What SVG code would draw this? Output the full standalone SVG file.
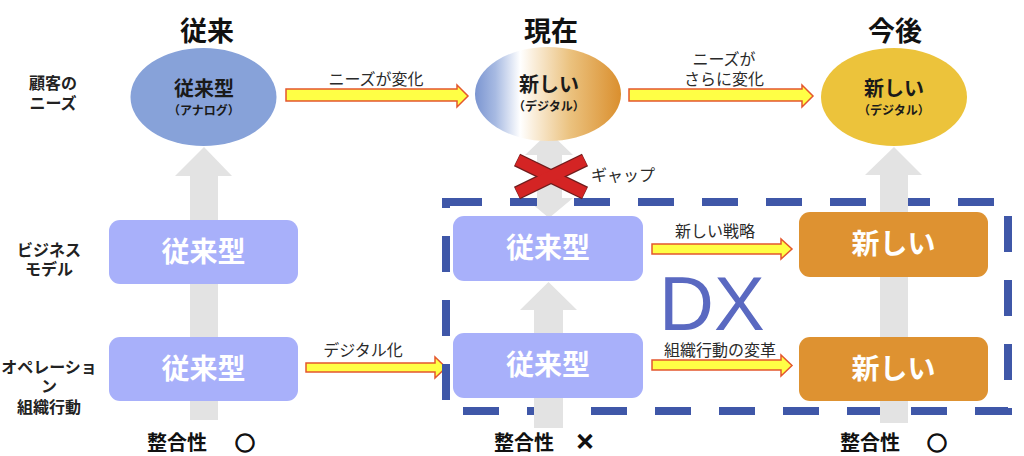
<svg xmlns="http://www.w3.org/2000/svg" width="1024" height="456" viewBox="0 0 1024 456">
<defs>
<linearGradient id="gNow" x1="0" y1="0" x2="1" y2="0">
<stop offset="0" stop-color="#7b95d1"/>
<stop offset="0.14" stop-color="#a7bae2"/>
<stop offset="0.31" stop-color="#ffffff"/>
<stop offset="0.4" stop-color="#faeedb"/>
<stop offset="0.65" stop-color="#ebc27f"/>
<stop offset="1" stop-color="#da8f2e"/>
</linearGradient>
</defs>
<style>
.jp{font-family:"Noto Sans CJK JP","Noto Sans",sans-serif}
.title{font-size:27px;font-weight:bold;fill:#111;text-anchor:middle}
.side{font-size:16px;font-weight:bold;fill:#222;text-anchor:middle}
.elt{font-size:20px;font-weight:bold;fill:#1a1a1a;text-anchor:middle}
.els{font-size:12px;font-weight:bold;fill:#1a1a1a;text-anchor:middle}
.boxt{font-size:28px;font-weight:bold;fill:#ffffff;text-anchor:middle}
.lab{font-size:16px;fill:#2a2a2a;text-anchor:middle}
.bot{font-size:20px;font-weight:bold;fill:#111}
.mark{fill:#111;stroke:#111;stroke-width:1.4;text-anchor:middle}
.blue{fill:#a8b0fa}
.orange{fill:#de9231}
.gray{fill:#e3e3e3}
.yarrow{fill:#ffff45;stroke:#e4572e;stroke-width:1.5;stroke-linejoin:miter}
</style>
<rect width="1024" height="456" fill="#ffffff"/>

<!-- titles -->
<g id="titles" class="jp">
<text class="title" x="207" y="41">従来</text>
<text class="title" x="551" y="41">現在</text>
<text class="title" x="895" y="41">今後</text>
</g>

<!-- row labels -->
<g id="row-labels" class="jp">
<text class="side" x="53" y="89">顧客の</text>
<text class="side" x="53" y="109">ニーズ</text>
<text class="side" x="49" y="256">ビジネス</text>
<text class="side" x="49" y="275">モデル</text>
<text class="side" x="49" y="373">オペレーショ</text>
<text class="side" x="49" y="392">ン</text>
<text class="side" x="49" y="413">組織行動</text>
</g>

<!-- connectors -->
<g id="connectors">
<polygon class="gray" points="190,420 190,176 175,176 204,147 232,176 218,176 218,420"/>
<polygon class="gray" points="880,423 880,175 865,175 894,147 922,175 908,175 908,423"/>
<polygon class="gray" points="534,428 534,310 520,310 548.5,282 577,310 563,310 563,428"/>
<polygon class="gray" points="549,132 573,155 562,155 562,198 573,198 549,218 525,198 537,198 537,155 525,155"/>
<polygon class="yarrow" points="286,89 457,89 457,85 468,96 457,107 457,101 286,101"/>
<polygon class="yarrow" points="629,89 802,89 802,85 813,96 802,107 802,101 629,101"/>
<polygon class="yarrow" points="306,363 435,363 435,357 446,367.5 435,378 435,372 306,372"/>
<polygon class="yarrow" points="652,244 781,244 781,239 792,249 781,259 781,254 652,254"/>
<polygon class="yarrow" points="652,360 781,360 781,355 792,365.5 781,376 781,370 652,370"/>
</g>

<!-- DX boundary -->
<g id="dx-frame">
<rect x="446" y="202" width="562" height="209" fill="none" stroke="#3f57a8" stroke-width="8" stroke-dasharray="36 28"/>
<text x="659" y="330" font-family="Liberation Sans, Arial, sans-serif" font-size="76" fill="#5a69c1">DX</text>
</g>
<g id="connectors-over">
<rect class="gray" x="537" y="198" width="25" height="8"/>
<rect class="gray" x="880" y="198" width="28" height="8"/>
<rect class="gray" x="880" y="407" width="28" height="8"/>
<rect class="gray" x="534" y="407" width="29" height="8"/>
</g>

<!-- needs ellipses -->
<g id="need-past" class="jp">
<ellipse cx="203.5" cy="97" rx="73" ry="49" fill="#87a2d9"/>
<text class="elt" x="204" y="96">従来型</text>
<text class="els" x="204" y="115">（アナログ）</text>
</g>
<g id="need-now" class="jp">
<ellipse cx="548" cy="94" rx="73" ry="47" fill="url(#gNow)"/>
<text class="elt" x="549" y="92">新しい</text>
<text class="els" x="549" y="111">（デジタル）</text>
</g>
<g id="need-future" class="jp">
<ellipse cx="894" cy="97" rx="73" ry="49" fill="#ecc33b"/>
<text class="elt" x="894" y="96">新しい</text>
<text class="els" x="894" y="115">（デジタル）</text>
</g>

<!-- boxes -->
<g id="bm-past" class="jp">
<rect class="blue" x="109" y="220" width="189" height="64" rx="11"/>
<text class="boxt" x="203.5" y="262">従来型</text>
</g>
<g id="op-past" class="jp">
<rect class="blue" x="109" y="337" width="189" height="64" rx="11"/>
<text class="boxt" x="203.5" y="379">従来型</text>
</g>
<g id="bm-now" class="jp">
<rect class="blue" x="453" y="216" width="190" height="65" rx="11"/>
<text class="boxt" x="548" y="258">従来型</text>
</g>
<g id="op-now" class="jp">
<rect class="blue" x="453" y="333" width="190" height="65" rx="11"/>
<text class="boxt" x="548" y="375">従来型</text>
</g>
<g id="bm-future" class="jp">
<rect class="orange" x="799" y="212" width="189" height="65" rx="11"/>
<text class="boxt" x="893.5" y="254">新しい</text>
</g>
<g id="op-future" class="jp">
<rect class="orange" x="799" y="337" width="189" height="64" rx="11"/>
<text class="boxt" x="893.5" y="379">新しい</text>
</g>

<!-- gap cross -->
<g id="gap">
<line x1="517" y1="160" x2="585" y2="193" stroke="#6e1c1c" stroke-width="14"/>
<line x1="517" y1="193" x2="585" y2="160" stroke="#6e1c1c" stroke-width="14"/>
<line x1="517.5" y1="160.2" x2="584.5" y2="192.8" stroke="#d42424" stroke-width="11.5"/>
<line x1="517.5" y1="192.8" x2="584.5" y2="160.2" stroke="#d42424" stroke-width="11.5"/>
<text class="jp lab" x="623" y="181">ギャップ</text>
</g>

<!-- arrow labels -->
<g id="arrow-labels" class="jp">
<text class="lab" x="376" y="85">ニーズが変化</text>
<text class="lab" x="724" y="65">ニーズが</text>
<text class="lab" x="724" y="85">さらに変化</text>
<text class="lab" x="363" y="356">デジタル化</text>
<text class="lab" x="715" y="237">新しい戦略</text>
<text class="lab" x="720" y="356">組織行動の変革</text>
</g>

<!-- alignment -->
<g id="alignment" class="jp">
<text class="bot" x="147" y="450">整合性</text>
<text class="bot mark" x="245" y="451" font-size="22">○</text>
<text class="bot" x="494" y="450">整合性</text>
<text class="bot mark" x="585" y="449" font-size="15">×</text>
<text class="bot" x="840" y="450">整合性</text>
<text class="bot mark" x="937" y="451" font-size="22">○</text>
</g>
</svg>
